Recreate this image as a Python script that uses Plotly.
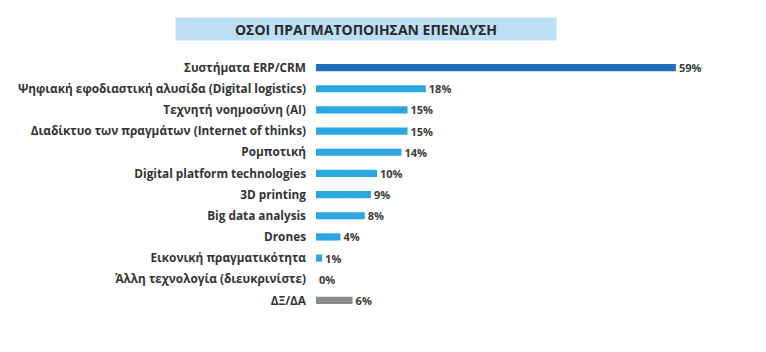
import plotly.graph_objects as go

categories = [
    "Συστήματα ERP/CRM",
    "Ψηφιακή εφοδιαστική αλυσίδα (Digital logistics)",
    "Τεχνητή νοημοσύνη (AI)",
    "Διαδίκτυο των πραγμάτων (Internet of thinks)",
    "Ρομποτική",
    "Digital platform technologies",
    "3D printing",
    "Big data analysis",
    "Drones",
    "Εικονική πραγματικότητα",
    "Άλλη τεχνολογία (διευκρινίστε)",
    "ΔΞ/ΔΑ",
]
values = [59, 18, 15, 15, 14, 10, 9, 8, 4, 1, 0, 6]
colors = ["#1f6fba"] + ["#2aa7e1"] * 10 + ["#8c8c8c"]
title_text = "ΟΣΟΙ ΠΡΑΓΜΑΤΟΠΟΙΗΣΑΝ ΕΠΕΝΔΥΣΗ"

W, H = 766, 352
ml, mr, mt, mb = 316, 23, 57, 41
pw = W - ml - mr
ph = H - mt - mb

fig = go.Figure(go.Bar(
    x=values,
    y=categories,
    orientation="h",
    marker=dict(color=colors, line=dict(width=0)),
    width=0.34,
    text=[f"{v}%" for v in values],
    textposition="outside",
    constraintext="none",
    cliponaxis=False,
    outsidetextfont=dict(family="Open Sans", size=11, color="#3a3a3a", weight="bold"),
))

fig.update_layout(
    width=W, height=H,
    margin=dict(l=ml, r=mr, t=mt, b=mb),
    paper_bgcolor="white", plot_bgcolor="white",
    showlegend=False,
    xaxis=dict(range=[0, 70], visible=False, fixedrange=True),
    yaxis=dict(
        categoryorder="array", categoryarray=categories, autorange="reversed",
        showgrid=False, zeroline=False, showline=False, ticks="",
        ticklabelstandoff=9,
        tickfont=dict(family="Open Sans", size=11.8, color="#333333", weight="bold"),
    ),
    annotations=[dict(
        text=title_text, xref="paper", yref="paper",
        x=(366 - ml) / pw, y=1 + (mt - 29) / ph,
        xanchor="center", yanchor="middle", showarrow=False,
        width=378, height=20, bgcolor="#bcdff6",
        font=dict(family="Open Sans", size=14, color="#2a2a2a", weight="bold"),
    )],
)

fig.write_html("out.html")
